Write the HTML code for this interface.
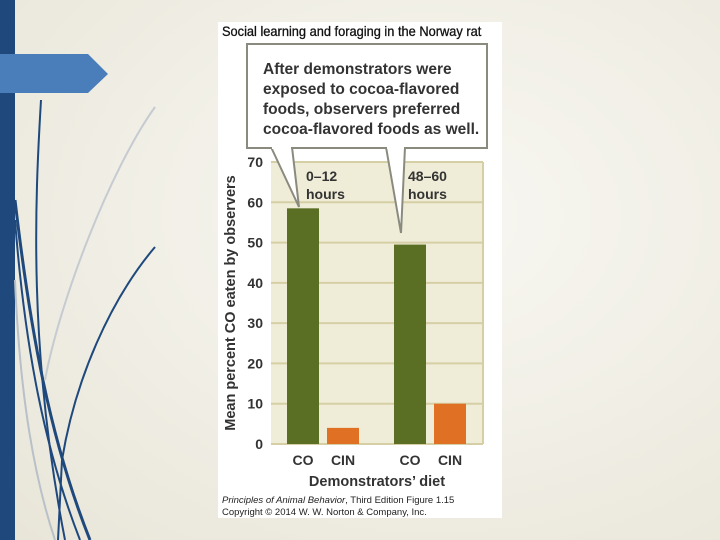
<!DOCTYPE html>
<html><head><meta charset="utf-8"><style>
body{margin:0;width:720px;height:540px;overflow:hidden;background:radial-gradient(ellipse at 60% 40%,#f8f7f2 0%,#efede3 60%,#e8e5d8 100%);font-family:"Liberation Sans",sans-serif;}
svg{position:absolute;left:0;top:0}
</style></head><body>
<svg width="720" height="540">
<g>
<rect x="0" y="0" width="15" height="540" fill="#1f497d"/>
<polygon points="0,54 88,54 108,74 88,93 0,93" fill="#4a7ebb"/>
<path d="M41,100 C35,200 28,350 65,540" stroke="#1f497d" stroke-width="2" fill="none"/>
<path d="M15,200 C30,330 50,440 90,540" stroke="#1f497d" stroke-width="3" fill="none"/>
<path d="M15,220 C25,350 45,450 80,540" stroke="#1f497d" stroke-width="2" fill="none"/>
<path d="M155,247 C110,300 75,380 62,460 L58,540" stroke="#1f497d" stroke-width="2" fill="none"/>
<path d="M155,107 C110,170 60,300 45,380" stroke="#c5cbd0" stroke-width="2" fill="none"/>
<path d="M15,280 C20,400 35,480 55,540" stroke="#b8c0c8" stroke-width="2" fill="none"/>
</g>
<rect x="218" y="22" width="284" height="496" fill="#ffffff"/>
<text x="222" y="36" font-size="13.5" fill="#111" stroke="#111" stroke-width="0.3" transform="translate(222,0) scale(0.95,1) translate(-222,0)">Social learning and foraging in the Norway rat</text>
<rect x="271" y="162" width="212" height="282" fill="#efecd7"/>
<g id="grid"></g>
<g id="bars"></g>
<g id="yticks" font-size="14" font-weight="bold" fill="#333" text-anchor="end"></g>
<g id="xticks" font-size="14" font-weight="bold" fill="#333" text-anchor="middle"></g>
<g>
<polygon points="271,147 299,207 292,147" fill="#fff" stroke="#8a8a7e" stroke-width="2"/>
<polygon points="386,147 401,233 405,147" fill="#fff" stroke="#8a8a7e" stroke-width="2"/>
<rect x="247" y="44" width="240" height="104" fill="#fff" stroke="#8a8a7e" stroke-width="2"/>
<rect x="272" y="145" width="19" height="4" fill="#fff"/>
<rect x="387" y="145" width="17" height="4" fill="#fff"/>
<g font-size="15.5" font-weight="bold" fill="#333">
<text x="263" y="74">After demonstrators were</text>
<text x="263" y="94">exposed to cocoa-flavored</text>
<text x="263" y="114">foods, observers preferred</text>
<text x="263" y="134">cocoa-flavored foods as well.</text>
</g></g>
<g font-size="14" font-weight="bold" fill="#333">
<text x="306" y="181">0–12</text><text x="306" y="199">hours</text>
<text x="408" y="181">48–60</text><text x="408" y="199">hours</text>
</g>
<text transform="translate(235,303) rotate(-90)" font-size="14.5" font-weight="bold" fill="#333" text-anchor="middle">Mean percent CO eaten by observers</text>
<text x="377" y="486" font-size="14.5" font-weight="bold" fill="#333" text-anchor="middle">Demonstrators’ diet</text>
<g font-size="9.5" fill="#222">
<text x="222" y="503"><tspan font-style="italic">Principles of Animal Behavior</tspan>, Third Edition  Figure 1.15</text>
<text x="222" y="515">Copyright © 2014 W. W. Norton &amp; Company, Inc.</text>
</g>
</svg>
<script>
const categories=["CO","CIN","CO","CIN"];
const values=[58.5,4,49.5,10];
const barColors=["#5a6e24","#e07124","#5a6e24","#e07124"];
const yTicks=[0,10,20,30,40,50,60,70];
const NS="http://www.w3.org/2000/svg";
const y=v=>444-v*(282/70);
const barX=[287,327,394,434], bw=32;
const grid=document.getElementById('grid');
yTicks.forEach(t=>{
 const l=document.createElementNS(NS,'line');
 l.setAttribute('x1',271);l.setAttribute('x2',483);l.setAttribute('y1',y(t));l.setAttribute('y2',y(t));
 l.setAttribute('stroke','#d6cfa6');l.setAttribute('stroke-width',2);
 
 
 grid.appendChild(l);
 const tx=document.createElementNS(NS,'text');
 tx.setAttribute('x',263);tx.setAttribute('y',y(t)+5);tx.textContent=t;
 
 
 document.getElementById('yticks').appendChild(tx);
});
const vl=document.createElementNS(NS,'line');
vl.setAttribute('x1',483);vl.setAttribute('x2',483);vl.setAttribute('y1',162);vl.setAttribute('y2',444);
vl.setAttribute('stroke','#d6cfa6');vl.setAttribute('stroke-width',2);


grid.appendChild(vl);
values.forEach((v,i)=>{
 const r=document.createElementNS(NS,'rect');
 r.setAttribute('x',barX[i]);r.setAttribute('width',bw);r.setAttribute('y',y(v));r.setAttribute('height',444-y(v));
 r.setAttribute('fill',barColors[i]);
 
 
 document.getElementById('bars').appendChild(r);
 const tx=document.createElementNS(NS,'text');
 tx.setAttribute('x',barX[i]+bw/2);tx.setAttribute('y',465);tx.textContent=categories[i];
 
 
 document.getElementById('xticks').appendChild(tx);
});
</script>
</body></html>
